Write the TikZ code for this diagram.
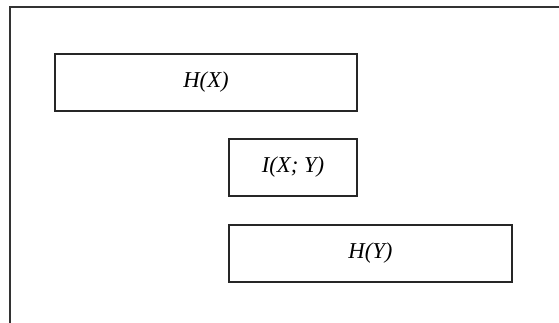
\documentclass[tikz,border=0pt]{standalone}
\usepackage{fontspec}
\setmainfont{Liberation Serif}
\begin{document}
\begin{tikzpicture}[x=0.75pt,y=-0.75pt,
  frameline/.style={line width=1.4pt, draw=black!80},
  quantity/.style={draw=black!85, line width=1.2pt, rectangle, inner sep=0pt,
    minimum height=42.75pt, font=\fontsize{17}{20}\selectfont\itshape}]
  \useasboundingbox (0,0) rectangle (559,323);
  % open frame: top and left edges only
  \draw[frameline] (10,323) -- (10,7) -- (559,7);
  % entropy and mutual information boxes
  \node[quantity, minimum width=226.5pt] (hx) at (206,82.5) {H(X)};
  \node[quantity, minimum width=96pt] (ixy) at (293,167.5) {I(X; Y)};
  \node[quantity, minimum width=212.25pt] (hy) at (370.5,253.5) {H(Y)};
\end{tikzpicture}
\end{document}
